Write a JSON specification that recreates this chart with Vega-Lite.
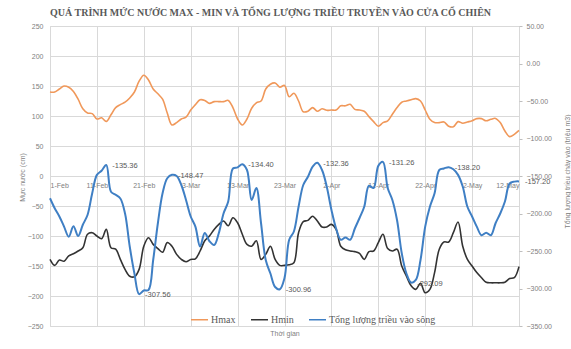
{
  "$schema": "https://vega.github.io/schema/vega-lite/v6.json",
  "width": 469,
  "height": 300,
  "autosize": {"type": "none"},
  "padding": {"left": 50, "top": 26, "right": 52, "bottom": 23},
  "background": "white",
  "title": {
    "text": "QUÁ TRÌNH MỨC NƯỚC MAX - MIN VÀ TỔNG LƯỢNG TRIỀU TRUYỀN VÀO CỬA CỔ CHIÊN",
    "font": "Liberation Serif",
    "fontSize": 10,
    "fontWeight": "bold",
    "color": "#595959",
    "anchor": "middle",
    "dx": -14,
    "offset": 4
  },
  "config": {
    "view": {"stroke": "#D9D9D9"},
    "axis": {
      "labelFont": "Liberation Sans",
      "labelFontSize": 7,
      "labelColor": "#808080",
      "titleFont": "Liberation Sans",
      "titleFontSize": 7,
      "titleColor": "#808080",
      "titleFontWeight": "normal",
      "gridColor": "#D9D9D9",
      "gridWidth": 1,
      "domainColor": "#D9D9D9",
      "tickColor": "#BFBFBF"
    }
  },
  "data": {
    "values": [
      {"date": "2019-02-01", "Hmax": 140, "Hmin": -139, "Tong": -179.7},
      {"date": "2019-02-02", "Hmax": 140, "Hmin": -149, "Tong": -193},
      {"date": "2019-02-03", "Hmax": 145, "Hmin": -140, "Tong": -204},
      {"date": "2019-02-04", "Hmax": 150, "Hmin": -142, "Tong": -217.5},
      {"date": "2019-02-05", "Hmax": 148, "Hmin": -133, "Tong": -231},
      {"date": "2019-02-06", "Hmax": 141, "Hmin": -129.5, "Tong": -217},
      {"date": "2019-02-07", "Hmax": 128, "Hmin": -125, "Tong": -230},
      {"date": "2019-02-08", "Hmax": 112, "Hmin": -119.5, "Tong": -215},
      {"date": "2019-02-09", "Hmax": 105, "Hmin": -97, "Tong": -202},
      {"date": "2019-02-10", "Hmax": 104, "Hmin": -94.5, "Tong": -173},
      {"date": "2019-02-11", "Hmax": 95, "Hmin": -100, "Tong": -148.5},
      {"date": "2019-02-12", "Hmax": 97, "Hmin": -104.5, "Tong": -143},
      {"date": "2019-02-13", "Hmax": 91, "Hmin": -89, "Tong": -135.36, "label": "-135.36"},
      {"date": "2019-02-14", "Hmax": 102, "Hmin": -119.5, "Tong": -171},
      {"date": "2019-02-15", "Hmax": 114, "Hmin": -122, "Tong": -175},
      {"date": "2019-02-16", "Hmax": 119, "Hmin": -139, "Tong": -180},
      {"date": "2019-02-17", "Hmax": 123, "Hmin": -155.6, "Tong": -200},
      {"date": "2019-02-18", "Hmax": 130, "Hmin": -167, "Tong": -244},
      {"date": "2019-02-19", "Hmax": 140, "Hmin": -168, "Tong": -280},
      {"date": "2019-02-20", "Hmax": 158, "Hmin": -155.6, "Tong": -307.56, "label": "-307.56"},
      {"date": "2019-02-21", "Hmax": 168, "Hmin": -117, "Tong": -302.6},
      {"date": "2019-02-22", "Hmax": 160, "Hmin": -103, "Tong": -302},
      {"date": "2019-02-23", "Hmax": 145, "Hmin": -114, "Tong": -262},
      {"date": "2019-02-24", "Hmax": 137, "Hmin": -121, "Tong": -213},
      {"date": "2019-02-25", "Hmax": 128, "Hmin": -127, "Tong": -173},
      {"date": "2019-02-26", "Hmax": 105, "Hmin": -111, "Tong": -153},
      {"date": "2019-02-27", "Hmax": 85, "Hmin": -117, "Tong": -148.47, "label": "-148.47"},
      {"date": "2019-02-28", "Hmax": 89, "Hmin": -130.6, "Tong": -150},
      {"date": "2019-03-01", "Hmax": 95, "Hmin": -139, "Tong": -162},
      {"date": "2019-03-02", "Hmax": 98, "Hmin": -143, "Tong": -182},
      {"date": "2019-03-03", "Hmax": 110, "Hmin": -139, "Tong": -204},
      {"date": "2019-03-04", "Hmax": 119, "Hmin": -138, "Tong": -217.5},
      {"date": "2019-03-05", "Hmax": 127, "Hmin": -125, "Tong": -244},
      {"date": "2019-03-06", "Hmax": 126, "Hmin": -108, "Tong": -226},
      {"date": "2019-03-07", "Hmax": 121, "Hmin": -100, "Tong": -237},
      {"date": "2019-03-08", "Hmax": 124, "Hmin": -89, "Tong": -242},
      {"date": "2019-03-09", "Hmax": 124, "Hmin": -80.6, "Tong": -226},
      {"date": "2019-03-10", "Hmax": 124, "Hmin": -75, "Tong": -200},
      {"date": "2019-03-11", "Hmax": 126, "Hmin": -83, "Tong": -184},
      {"date": "2019-03-12", "Hmax": 114, "Hmin": -69.5, "Tong": -140},
      {"date": "2019-03-13", "Hmax": 95, "Hmin": -78, "Tong": -138.5},
      {"date": "2019-03-14", "Hmax": 85, "Hmin": -97, "Tong": -134.4, "label": "-134.40"},
      {"date": "2019-03-15", "Hmax": 95, "Hmin": -114, "Tong": -142},
      {"date": "2019-03-16", "Hmax": 113, "Hmin": -117, "Tong": -182},
      {"date": "2019-03-17", "Hmax": 122, "Hmin": -108, "Tong": -166},
      {"date": "2019-03-18", "Hmax": 125, "Hmin": -139, "Tong": -213},
      {"date": "2019-03-19", "Hmax": 145, "Hmin": -130.6, "Tong": -262},
      {"date": "2019-03-20", "Hmax": 153, "Hmin": -117, "Tong": -280},
      {"date": "2019-03-21", "Hmax": 155, "Hmin": -139, "Tong": -298},
      {"date": "2019-03-22", "Hmax": 148, "Hmin": -149, "Tong": -300.96, "label": "-300.96"},
      {"date": "2019-03-23", "Hmax": 151, "Hmin": -149, "Tong": -286},
      {"date": "2019-03-24", "Hmax": 132, "Hmin": -148, "Tong": -235},
      {"date": "2019-03-25", "Hmax": 138, "Hmin": -144.5, "Tong": -224},
      {"date": "2019-03-26", "Hmax": 125, "Hmin": -94.5, "Tong": -191},
      {"date": "2019-03-27", "Hmax": 107, "Hmin": -76, "Tong": -162},
      {"date": "2019-03-28", "Hmax": 108, "Hmin": -74, "Tong": -151},
      {"date": "2019-03-29", "Hmax": 114, "Hmin": -67, "Tong": -137.5},
      {"date": "2019-03-30", "Hmax": 108, "Hmin": -75, "Tong": -132.36, "label": "-132.36"},
      {"date": "2019-03-31", "Hmax": 112, "Hmin": -85, "Tong": -142},
      {"date": "2019-04-01", "Hmax": 109.5, "Hmin": -85, "Tong": -164},
      {"date": "2019-04-02", "Hmax": 110, "Hmin": -80.6, "Tong": -195},
      {"date": "2019-04-03", "Hmax": 110, "Hmin": -89, "Tong": -220},
      {"date": "2019-04-04", "Hmax": 117, "Hmin": -117, "Tong": -235},
      {"date": "2019-04-05", "Hmax": 117, "Hmin": -123, "Tong": -232},
      {"date": "2019-04-06", "Hmax": 119.5, "Hmin": -125, "Tong": -235},
      {"date": "2019-04-07", "Hmax": 111, "Hmin": -126, "Tong": -220},
      {"date": "2019-04-08", "Hmax": 110, "Hmin": -129, "Tong": -206},
      {"date": "2019-04-09", "Hmax": 108, "Hmin": -139, "Tong": -191},
      {"date": "2019-04-10", "Hmax": 99, "Hmin": -126, "Tong": -163},
      {"date": "2019-04-11", "Hmax": 90.6, "Hmin": -125, "Tong": -166},
      {"date": "2019-04-12", "Hmax": 83, "Hmin": -111, "Tong": -136.5},
      {"date": "2019-04-13", "Hmax": 89, "Hmin": -97, "Tong": -131.26, "label": "-131.26"},
      {"date": "2019-04-14", "Hmax": 92, "Hmin": -121, "Tong": -166},
      {"date": "2019-04-15", "Hmax": 103, "Hmin": -125, "Tong": -182},
      {"date": "2019-04-16", "Hmax": 114, "Hmin": -122, "Tong": -209},
      {"date": "2019-04-17", "Hmax": 123, "Hmin": -150, "Tong": -253},
      {"date": "2019-04-18", "Hmax": 125, "Hmin": -167, "Tong": -280},
      {"date": "2019-04-19", "Hmax": 127, "Hmin": -183, "Tong": -292.09, "label": "-292.09"},
      {"date": "2019-04-20", "Hmax": 129, "Hmin": -189, "Tong": -288.6},
      {"date": "2019-04-21", "Hmax": 125, "Hmin": -179, "Tong": -262},
      {"date": "2019-04-22", "Hmax": 110, "Hmin": -194.6, "Tong": -217.5},
      {"date": "2019-04-23", "Hmax": 94.5, "Hmin": -189, "Tong": -191},
      {"date": "2019-04-24", "Hmax": 89, "Hmin": -161, "Tong": -173},
      {"date": "2019-04-25", "Hmax": 89, "Hmin": -122, "Tong": -142},
      {"date": "2019-04-26", "Hmax": 90, "Hmin": -110, "Tong": -140},
      {"date": "2019-04-27", "Hmax": 83, "Hmin": -110, "Tong": -138.2, "label": "-138.20"},
      {"date": "2019-04-28", "Hmax": 82, "Hmin": -94.5, "Tong": -141},
      {"date": "2019-04-29", "Hmax": 90.6, "Hmin": -76.7, "Tong": -148.5},
      {"date": "2019-04-30", "Hmax": 88, "Hmin": -117, "Tong": -164},
      {"date": "2019-05-01", "Hmax": 90, "Hmin": -139, "Tong": -191},
      {"date": "2019-05-02", "Hmax": 92, "Hmin": -150, "Tong": -204},
      {"date": "2019-05-03", "Hmax": 95.6, "Hmin": -161, "Tong": -217.5},
      {"date": "2019-05-04", "Hmax": 95.6, "Hmin": -169.5, "Tong": -229},
      {"date": "2019-05-05", "Hmax": 92, "Hmin": -177, "Tong": -225.6},
      {"date": "2019-05-06", "Hmax": 94.5, "Hmin": -178, "Tong": -229},
      {"date": "2019-05-07", "Hmax": 96, "Hmin": -178, "Tong": -213},
      {"date": "2019-05-08", "Hmax": 89, "Hmin": -178, "Tong": -200},
      {"date": "2019-05-09", "Hmax": 75, "Hmin": -177, "Tong": -184},
      {"date": "2019-05-10", "Hmax": 65.6, "Hmin": -171, "Tong": -160},
      {"date": "2019-05-11", "Hmax": 69.5, "Hmin": -169.5, "Tong": -157.5},
      {"date": "2019-05-12", "Hmax": 76, "Hmin": -151, "Tong": -157.2, "label": "-157.20"}
    ]
  },
  "layer": [
    {
      "transform": [{"fold": ["Hmax", "Hmin"], "as": ["series", "value"]}],
      "mark": {"type": "line", "interpolate": "catmull-rom", "strokeWidth": 1.6},
      "encoding": {
        "x": {
          "field": "date",
          "type": "temporal",
          "scale": {
            "type": "utc",
            "domain": [
              {"year": 2019, "month": 2, "date": 1, "utc": true},
              {"year": 2019, "month": 5, "date": 12, "utc": true}
            ]
          },
          "axis": {
            "orient": "top",
            "grid": true,
            "labels": false,
            "ticks": false,
            "domain": false,
            "title": null,
            "values": [
              {"year": 2019, "month": 2, "date": 1, "utc": true},
              {"year": 2019, "month": 2, "date": 11, "utc": true},
              {"year": 2019, "month": 2, "date": 21, "utc": true},
              {"year": 2019, "month": 3, "date": 3, "utc": true},
              {"year": 2019, "month": 3, "date": 13, "utc": true},
              {"year": 2019, "month": 3, "date": 23, "utc": true},
              {"year": 2019, "month": 4, "date": 2, "utc": true},
              {"year": 2019, "month": 4, "date": 12, "utc": true},
              {"year": 2019, "month": 4, "date": 22, "utc": true},
              {"year": 2019, "month": 5, "date": 2, "utc": true},
              {"year": 2019, "month": 5, "date": 12, "utc": true}
            ]
          }
        },
        "y": {
          "field": "value",
          "type": "quantitative",
          "scale": {"domain": [-250, 250], "nice": false, "zero": false},
          "axis": {
            "orient": "left",
            "values": [-250, -200, -150, -100, -50, 0, 50, 100, 150, 200, 250],
            "grid": true,
            "ticks": false,
            "domain": false,
            "labelPadding": 7,
            "title": "Mực nước (cm)",
            "titleAngle": -90,
            "titleX": -28,
            "titleY": 151,
            "titleAlign": "center",
            "titleBaseline": "middle"
          }
        },
        "color": {
          "field": "series",
          "type": "nominal",
          "scale": {
            "domain": ["Hmax", "Hmin", "Tổng lượng triều vào sông"],
            "range": ["#F0985A", "#333333", "#3F7FC4"]
          },
          "legend": {
            "orient": "none",
            "legendX": 140,
            "legendY": 284,
            "direction": "horizontal",
            "title": null,
            "symbolType": "stroke",
            "symbolSize": 289,
            "symbolStrokeWidth": 1.5,
            "labelFont": "Liberation Serif",
            "labelFontSize": 10,
            "labelColor": "#595959",
            "labelOffset": 2,
            "columnPadding": 12
          }
        }
      }
    },
    {
      "encoding": {
        "x": {
          "field": "date",
          "type": "temporal",
          "scale": {
            "type": "utc",
            "domain": [
              {"year": 2019, "month": 2, "date": 1, "utc": true},
              {"year": 2019, "month": 5, "date": 12, "utc": true}
            ]
          },
          "axis": {
            "orient": "bottom",
            "offset": -150,
            "grid": false,
            "ticks": false,
            "domain": false,
            "labelPadding": 5,
            "labelExpr": "utcFormat(datum.value, '%-d-%b')",
            "labelOverlap": false,
            "values": [
              {"year": 2019, "month": 2, "date": 1, "utc": true},
              {"year": 2019, "month": 2, "date": 11, "utc": true},
              {"year": 2019, "month": 2, "date": 21, "utc": true},
              {"year": 2019, "month": 3, "date": 3, "utc": true},
              {"year": 2019, "month": 3, "date": 13, "utc": true},
              {"year": 2019, "month": 3, "date": 23, "utc": true},
              {"year": 2019, "month": 4, "date": 2, "utc": true},
              {"year": 2019, "month": 4, "date": 12, "utc": true},
              {"year": 2019, "month": 4, "date": 22, "utc": true},
              {"year": 2019, "month": 5, "date": 2, "utc": true},
              {"year": 2019, "month": 5, "date": 12, "utc": true}
            ],
            "title": "Thời gian",
            "titleY": 157,
            "titleBaseline": "middle"
          }
        },
        "y": {
          "field": "Tong",
          "type": "quantitative",
          "scale": {"domain": [-350, 50], "nice": false, "zero": false},
          "axis": {
            "orient": "right",
            "values": [-350, -300, -250, -200, -150, -100, -50, 0, 50],
            "format": ".2f",
            "grid": false,
            "ticks": true,
            "tickSize": 3,
            "domain": false,
            "labelPadding": 4,
            "title": "Tổng lượng triều chảy vào (triệu m3)",
            "titleAngle": -90,
            "titleX": 48,
            "titleY": 145,
            "titleAlign": "center",
            "titleBaseline": "middle"
          }
        }
      },
      "layer": [
        {
          "mark": {"type": "line", "interpolate": "catmull-rom", "strokeWidth": 2},
          "encoding": {
            "color": {"datum": "Tổng lượng triều vào sông"}
          }
        },
        {
          "transform": [{"filter": "isValid(datum.label)"}],
          "mark": {
            "type": "text",
            "align": "left",
            "baseline": "middle",
            "dx": 6,
            "dy": 1,
            "font": "Liberation Sans",
            "fontSize": 7.5,
            "color": "#595959"
          },
          "encoding": {
            "text": {"field": "label", "type": "nominal"}
          }
        }
      ]
    }
  ],
  "resolve": {
    "scale": {"y": "independent"},
    "axis": {"x": "independent"}
  }
}
